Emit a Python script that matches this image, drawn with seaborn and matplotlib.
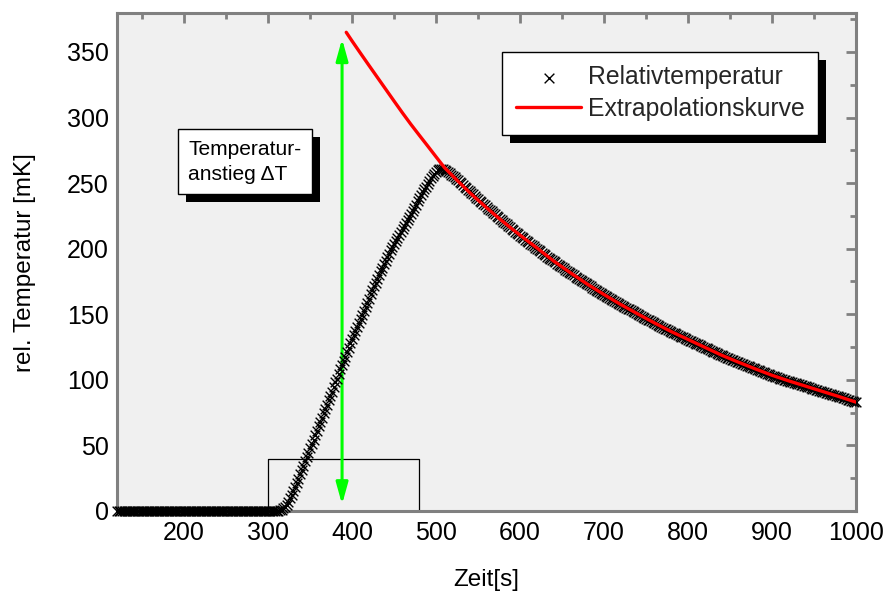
import numpy as np
import pandas as pd
import matplotlib
matplotlib.use("Agg")
import matplotlib.pyplot as plt
import seaborn as sns
from matplotlib.ticker import MultipleLocator
from matplotlib.patches import Rectangle
from matplotlib.transforms import IdentityTransform

# ---------------- data ----------------
zeit = np.arange(120, 1001, 2)  # sampling grid [s]

rel_temp = [
    0, 0, 0, 0, 0, 0, 0, 0, 0, 0, 0, 0, 0, 0, 0, 0,
    0, 0, 0, 0, 0, 0, 0, 0, 0, 0, 0, 0, 0, 0, 0, 0,
    0, 0, 0, 0, 0, 0, 0, 0, 0, 0, 0, 0, 0, 0, 0, 0,
    0, 0, 0, 0, 0, 0, 0, 0, 0, 0, 0, 0, 0, 0, 0, 0,
    0, 0, 0, 0, 0, 0, 0, 0, 0, 0, 0, 0, 0, 0, 0, 0,
    0, 0, 0, 0, 0, 0, 0, 0, 0, 0, 0, 0, 0, 0, 0, 0,
    0.2, 0.5, 1, 2, 3, 4.5, 7, 10, 12.5, 15,
    18, 21, 24.5, 28, 31, 34.5, 38, 41, 44.5, 48,
    51, 54.5, 58, 61, 64.5, 68, 71, 74.5, 78, 81,
    84.5, 88, 91, 94.5, 98, 101, 104.5, 108, 111, 114.4,
    117.8, 121.2, 124.6, 127.8, 131, 134.1, 137.2, 140.3, 143.4, 146.5,
    149.6, 152.7, 155.8, 158.9, 162, 165.1, 168.2, 171.2, 174.2, 177.1,
    180, 182.8, 185.6, 188.3, 191, 193.6, 196.2, 198.7, 201.2, 203.6,
    206, 208.4, 210.7, 213, 215.3, 217.6, 219.9, 222.2, 224.5, 226.8,
    229.1, 231.4, 233.7, 236, 238.3, 240.6, 242.9, 245.2, 247.4, 249.5,
    251.6, 253.6, 255.5, 257.2, 258.7, 259.9, 260.7, 261, 260.8, 260.2,
    259.4, 258.5, 257.5, 256.5, 255.4, 254.3, 253.2, 252.1, 251, 249.8,
    248.6, 247.4, 246.2, 245, 243.8, 242.6, 241.4, 240.2, 239, 237.8,
    236.6, 235.4, 234.2, 233, 231.8, 230.6, 229.5, 228.4, 227.3, 226.2,
    225.1, 224, 222.9, 221.8, 220.7, 219.6, 218.5, 217.4, 216.3, 215.2,
    214.1, 213, 211.9, 210.9, 209.9, 208.9, 207.9, 206.9, 205.9, 204.9,
    203.9, 202.9, 201.9, 200.9, 199.9, 198.9, 197.9, 196.9, 195.9, 194.9,
    194, 193.1, 192.2, 191.3, 190.4, 189.5, 188.6, 187.7, 186.8, 185.9,
    185, 184.1, 183.2, 182.3, 181.4, 180.5, 179.6, 178.7, 177.8, 176.9,
    176, 175.2, 174.4, 173.6, 172.8, 172, 171.2, 170.4, 169.6, 168.8,
    168, 167.2, 166.4, 165.6, 164.8, 164, 163.2, 162.4, 161.6, 160.8,
    160, 159.3, 158.6, 157.9, 157.2, 156.5, 155.8, 155.1, 154.4, 153.7,
    153, 152.3, 151.6, 150.9, 150.2, 149.5, 148.8, 148.1, 147.4, 146.7,
    146, 145.3, 144.6, 143.9, 143.2, 142.5, 141.8, 141.1, 140.4, 139.8,
    139.1, 138.4, 137.8, 137.2, 136.6, 136, 135.4, 134.8, 134.2, 133.6,
    133, 132.4, 131.8, 131.2, 130.6, 130, 129.4, 128.8, 128.2, 127.6,
    127, 126.4, 125.8, 125.2, 124.6, 124, 123.4, 122.8, 122.2, 121.6,
    121, 120.4, 119.8, 119.2, 118.6, 118, 117.4, 116.8, 116.3, 115.8,
    115.3, 114.8, 114.3, 113.8, 113.3, 112.8, 112.3, 111.8, 111.3, 110.8,
    110.3, 109.8, 109.3, 108.8, 108.3, 107.8, 107.3, 106.8, 106.3, 105.8,
    105.3, 104.8, 104.3, 103.8, 103.3, 102.8, 102.3, 101.8, 101.4, 101,
    100.6, 100.2, 99.8, 99.4, 99, 98.6, 98.2, 97.8, 97.4, 97,
    96.6, 96.2, 95.8, 95.4, 95, 94.6, 94.2, 93.8, 93.4, 93,
    92.6, 92.2, 91.8, 91.4, 91, 90.6, 90.2, 89.8, 89.4, 89,
    88.6, 88.2, 87.8, 87.4, 87, 86.6, 86.2, 85.8, 85.4, 85,
    84.6, 84.2, 83.8, 83.4, 83,
]

extra_zeit = [393, 400, 410, 420, 430, 440, 450, 460, 470, 480, 490, 500, 510,
              520, 530, 540, 550, 560, 570, 580, 590, 600, 610, 620, 640, 660,
              680, 700, 720, 740, 760, 780, 800, 820, 840, 860, 880, 900, 920,
              940, 960, 980, 1000]
extra_temp = [365, 358.3, 349, 339.8, 330.7, 321.6, 312.5, 303.5, 294.8, 286.5,
              278.3, 270, 261.8, 255.3, 249, 242.8, 237, 231.3, 225.8, 220.5,
              215.3, 210.3, 205.4, 200.6, 190.6, 181.6, 173, 165, 157.4, 150.3,
              143.4, 136.8, 130.8, 124.8, 118.8, 113.5, 108.4, 103.5, 99.2, 95.2,
              91.2, 87.2, 83.0]

puls_zeit = [120, 300, 300, 480, 480, 1000]
puls_wert = [0, 0, 40, 40, 0, 0]

pfeil_zeit = 388
pfeil_unten = 5
pfeil_oben = 360

x_ticks = [200, 300, 400, 500, 600, 700, 800, 900, 1000]
y_ticks = [0, 50, 100, 150, 200, 250, 300, 350]

# ---------------- style ----------------
sns.set_theme(style="white")
plt.rcParams["font.family"] = ["Liberation Sans", "DejaVu Sans"]

fig = plt.figure(figsize=(8.85, 5.94), dpi=100)
fig.patch.set_facecolor("white")
ax = fig.add_axes([117 / 885, 1 - 511 / 594, (856 - 117) / 885, (511 - 13.3) / 594])
ax.set_facecolor("#f0f0f0")

# heating pulse
sns.lineplot(x=puls_zeit, y=puls_wert, estimator=None, sort=False, color="black",
             lw=0.9, ax=ax, zorder=2, clip_on=False)

# green arrow
ax.annotate("", xy=(pfeil_zeit, pfeil_oben), xytext=(pfeil_zeit, pfeil_unten),
            arrowprops=dict(arrowstyle="<|-|>,head_length=13,head_width=3.6",
                            mutation_scale=1, color="#00ff00", lw=2.2,
                            shrinkA=0, shrinkB=0),
            zorder=2.6)

# data markers
sns.scatterplot(x=zeit, y=rel_temp, marker="x", color="black", s=49,
                linewidth=1.0, ax=ax, label="Relativtemperatur",
                clip_on=False, zorder=3)

# extrapolation
sns.lineplot(x=extra_zeit, y=extra_temp, color="#ff0000", lw=2.4, ax=ax,
             label="Extrapolationskurve", zorder=4)

ax.set_xlim(120, 1000)
ax.set_ylim(0, 379.5)
ax.set_xticks(x_ticks)
ax.set_yticks(y_ticks)
ax.xaxis.set_minor_locator(MultipleLocator(50))
ax.yaxis.set_minor_locator(MultipleLocator(25))
ax.tick_params(which="both", direction="in", top=True, right=True,
               color="#808080", width=2)
ax.tick_params(which="major", length=7.5)
ax.tick_params(which="minor", length=4)
ax.tick_params(axis="x", which="major", pad=7, labelsize=18, labelcolor="black")
ax.tick_params(axis="y", which="major", pad=6, labelsize=18, labelcolor="black")
for sp in ax.spines.values():
    sp.set_color("#808080")
    sp.set_linewidth(2.2)

ax.set_xlabel("Zeit[s]", fontsize=17.5, color="black")
ax.xaxis.set_label_coords(0.5, -0.117)
ax.set_ylabel("rel. Temperatur [mK]", fontsize=17.5, color="black")
ax.yaxis.set_label_coords(-0.11, 0.5)

handles, labels = ax.get_legend_handles_labels()
leg = ax.legend(handles, labels, loc="upper right", bbox_to_anchor=(0.949, 0.923),
                borderaxespad=0, fancybox=False, framealpha=1, edgecolor="black",
                fontsize=17.8, handlelength=2.65, handletextpad=0.27,
                borderpad=0.55, labelspacing=0.32, scatterpoints=1)
leg.get_frame().set_linewidth(1.0)
leg.set_zorder(6)

txt = ax.text(205, 283, "Temperatur-\nanstieg \u0394T", fontsize=15.1, ha="left",
              va="top", linespacing=1.4, color="black",
              bbox=dict(boxstyle="square,pad=0.5", fc="white", ec="black", lw=1.0),
              zorder=8)

# drop shadows
fig.canvas.draw()
for bb, z in [(leg.get_frame().get_window_extent(), 5.9),
              (txt.get_bbox_patch().get_window_extent(), 7.9)]:
    ax.add_patch(Rectangle((bb.x0 + 8, bb.y0 - 8), bb.width, bb.height,
                           transform=IdentityTransform(), fc="black", ec="none",
                           zorder=z))

fig.savefig("out.png", dpi=100, facecolor="white")
